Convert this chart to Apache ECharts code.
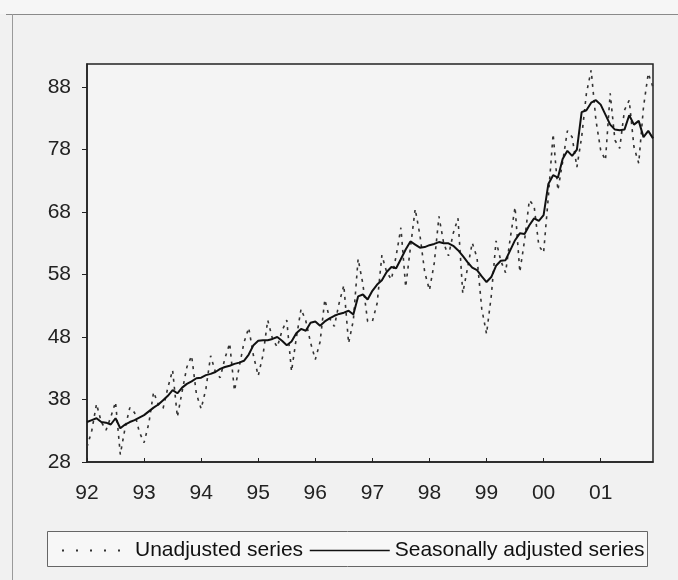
<!DOCTYPE html>
<html>
<head>
<meta charset="utf-8">
<script src="https://cdn.jsdelivr.net/npm/echarts@6/dist/echarts.min.js"></script>
<style>
html,body{margin:0;padding:0;background:#f0f0f0;}
#chart{width:678px;height:580px;}
</style>
</head>
<body>
<div id="chart"></div>
<script>
// Year tick labels (one per January)
const xTickLabels = ['92','93','94','95','96','97','98','99','00','01'];
const years = [1992,1993,1994,1995,1996,1997,1998,1999,2000,2001];
const yTicks = [28, 38, 48, 58, 68, 78, 88];

// Seasonally adjusted series, monthly Jan 1992 - Dec 2001
const seasonallyAdjusted = [
  34.4,34.7,35.0,34.4,34.3,34.0,35.0,33.4,34.0,34.4,34.7,35.1,
  35.5,36.1,36.7,37.2,37.9,38.6,39.5,39.0,39.9,40.5,40.9,41.4,
  41.5,41.9,42.1,42.4,42.9,43.2,43.4,43.7,43.9,44.2,45.2,46.7,
  47.4,47.5,47.5,47.7,48.0,47.4,46.7,47.3,48.6,49.3,49.0,50.3,
  50.5,49.8,50.5,51.0,51.4,51.7,51.9,52.2,51.6,54.5,54.8,54.0,
  55.4,56.4,57.1,58.4,59.2,59.0,60.5,62.0,63.3,62.8,62.3,62.4,
  62.7,62.9,63.2,63.0,63.0,62.6,61.9,61.0,60.0,59.1,58.7,57.7,
  56.8,57.6,59.4,60.2,60.3,61.9,63.5,64.6,64.5,65.9,67.0,66.6,
  67.5,72.5,73.9,73.5,76.5,77.8,77.0,78.0,84.0,84.3,85.5,85.9,
  85.2,83.6,82.0,81.2,81.1,81.2,83.5,82.0,82.6,80.0,81.0,79.8
];

// Unadjusted series, monthly Jan 1992 - Dec 2001
const unadjusted = [
  30.4,33.0,37.3,34.4,33.1,35.2,37.6,29.2,33.4,36.7,35.9,32.8,
  31.1,34.2,39.2,37.2,36.6,39.9,42.7,35.2,39.3,43.2,45.0,38.9,
  36.5,39.7,45.0,42.4,41.5,44.6,47.0,39.4,43.2,47.1,49.5,45.0,
  41.8,45.1,50.7,47.7,46.4,49.0,50.7,42.5,47.8,52.5,50.6,47.1,
  44.4,47.2,54.0,51.0,49.7,53.4,56.3,47.0,50.7,60.5,56.5,50.5,
  50.5,53.4,61.1,58.4,57.2,61.0,65.5,56.0,62.3,68.5,64.3,58.4,
  55.5,59.8,67.3,63.0,61.0,64.6,67.0,55.0,59.0,63.1,60.7,52.5,
  48.5,54.6,63.4,60.2,58.3,63.9,68.8,58.4,63.5,69.9,69.0,62.6,
  61.5,70.5,80.5,71.5,76.0,81.0,80.0,75.2,80.0,87.0,90.7,82.7,
  77.9,76.3,87.0,79.5,78.2,84.3,85.9,78.4,75.8,84.8,90.2,88.0
];

// Month categories
const months = [];
years.forEach(function (y) {
  for (let m = 1; m <= 12; m++) months.push(y + '-' + (m < 10 ? '0' + m : m));
});

const FONT = '"Liberation Sans", Arial, sans-serif';
const chart = echarts.init(document.getElementById('chart'), null, {renderer: 'canvas'});

const legendCommon = {
  itemHeight: 12,
  itemStyle: {color: 'rgba(0,0,0,0)', borderWidth: 0, borderColor: 'rgba(0,0,0,0)'},
  textStyle: {fontSize: 21, color: '#111', fontFamily: FONT}
};

chart.setOption({
  backgroundColor: '#f1f1f1',
  animation: false,
  textStyle: {fontFamily: FONT},
  graphic: [
    {type: 'rect', z: -10, shape: {x: 0, y: 0, width: 678, height: 14}, style: {fill: '#f6f6f6'}},
    {type: 'line', shape: {x1: 6, y1: 14.5, x2: 678, y2: 14.5}, style: {stroke: '#8a8a8a', lineWidth: 1}},
    {type: 'line', shape: {x1: 12.5, y1: 14, x2: 12.5, y2: 580}, style: {stroke: '#9a9a9a', lineWidth: 1}},
    {type: 'rect', z: -5, shape: {x: 47.5, y: 531.5, width: 600, height: 35}, style: {fill: '#f7f7f7', stroke: '#666', lineWidth: 1}}
  ],
  grid: {
    left: 87, right: 25, top: 64, bottom: 118,
    show: true, borderColor: '#222', borderWidth: 1.5, backgroundColor: '#f4f4f4'
  },
  legend: [
    Object.assign({
      data: ['Unadjusted series'], left: 56, top: 535, itemWidth: 68, itemGap: 12,
      lineStyle: {type: [2, 12], width: 2, color: '#333'}
    }, legendCommon),
    Object.assign({
      data: ['Seasonally adjusted series'], left: 304, top: 535, itemWidth: 80, itemGap: 1,
      lineStyle: {width: 1.5, color: '#111'}
    }, legendCommon)
  ],
  xAxis: {
    type: 'category',
    data: months,
    boundaryGap: false,
    axisLine: {show: true, lineStyle: {color: '#222', width: 1.5}},
    axisTick: {show: true, inside: true, length: 4, interval: 11, alignWithLabel: true, lineStyle: {color: '#222'}},
    axisLabel: {
      interval: 11, margin: 21, fontSize: 21, color: '#222', fontFamily: FONT,
      formatter: function (v, i) { return xTickLabels[Math.floor(i / 12)]; }
    },
    splitLine: {show: false}
  },
  yAxis: {
    type: 'value',
    min: 28, max: 91.7,
    axisLine: {show: true, lineStyle: {color: '#222', width: 1.5}},
    axisTick: {show: true, length: 5, customValues: yTicks, lineStyle: {color: '#222'}},
    axisLabel: {customValues: yTicks, margin: 16, fontSize: 21, color: '#222', fontFamily: FONT},
    splitLine: {show: false}
  },
  series: [
    {
      name: 'Unadjusted series', type: 'line', data: unadjusted, symbol: 'none',
      lineStyle: {color: '#333', width: 1.6, type: [3, 5]}, itemStyle: {color: '#333'}, z: 2
    },
    {
      name: 'Seasonally adjusted series', type: 'line', data: seasonallyAdjusted, symbol: 'none',
      lineStyle: {color: '#111', width: 2}, itemStyle: {color: '#111'}, z: 3
    }
  ]
});
</script>
</body>
</html>
